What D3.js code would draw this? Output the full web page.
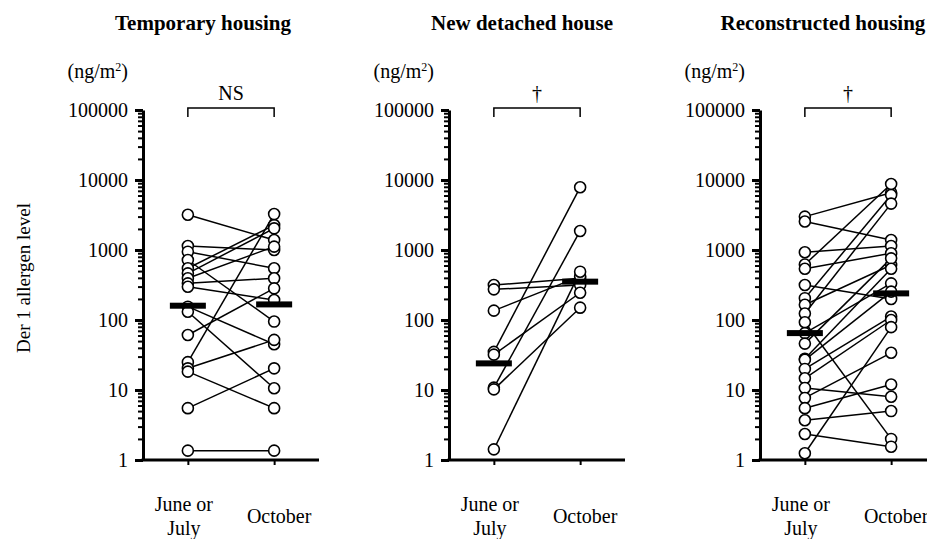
<!DOCTYPE html>
<html>
<head>
<meta charset="utf-8">
<script src="https://cdn.jsdelivr.net/npm/d3@7"></script>
<style>
  body { margin: 0; background: #fff; }
  svg text { font-family: "Liberation Serif", "Times New Roman", Times, "DejaVu Serif", serif; fill: #000; }
</style>
</head>
<body>
<div id="chart"></div>
<script>
// values (ng/m2), paired by index: June/July -> October
var panelTitles = ["Temporary housing", "New detached house", "Reconstructed housing"];
var sigLabels = ["NS", "\u2020", "\u2020"];
var periods = ["June or July", "October"];
var yTickValues = [1, 10, 100, 1000, 10000, 100000];

var tempJune = [3190, 1140, 946, 720, 548, 464, 394, 334, 299, 155, 131, 61, 25, 20.4, 18.3, 5.5, 1.36];
var tempOct  = [1390, 1000, 548, 95, 2270, 2040, 1116, 394, 193, 45, 10.6, 283, 3260, 52, 5.5, 20.4, 1.36];
var tempMedian = [160, 167];

var newJune = [316, 274, 136, 35, 32, 10.8, 10.2, 1.42];
var newOct  = [394, 316, 420, 7870, 245, 1870, 150, 490];
var newMedian = [24, 353];

var recJune = [3000, 2550, 930, 620, 540, 316, 205, 165, 124, 93, 65, 46, 28, 27, 20, 14.7, 10.7, 7.7, 5.5, 3.7, 2.35, 1.25];
var recOct  = [6590, 1390, 1140, 8770, 900, 200, 6100, 610, 4600, 2.0, 334, 760, 540, 254, 112, 100, 8.0, 34, 12, 5.0, 1.55, 79];
var recMedian = [65, 240];

var serif = "'Liberation Serif', 'Times New Roman', Times, 'DejaVu Serif', serif";

//setup
var svgWidth = 927;
var svgHeight = 539;
var svg = d3.select("#chart")
  .append("svg")
  .attr("width", svgWidth)
  .attr("height", svgHeight)
  .attr("font-family", serif);

var panelLeft = [143, 449, 760];
var titleX = [203, 522, 823];
var plotWidth = 176;

var y = d3.scaleLog()
  .domain([1, 100000])
  .range([460, 110]);
var x = d3.scalePoint()
  .domain(periods)
  .range([0, plotWidth])
  .padding(0.52);

var panels = [
  { june: tempJune, oct: tempOct, median: tempMedian },
  { june: newJune, oct: newOct, median: newMedian },
  { june: recJune, oct: recOct, median: recMedian }
];

// y axis title, shared
svg.append("text")
  .attr("transform", "translate(30, 278) rotate(-90)")
  .attr("text-anchor", "middle")
  .style("font-family", serif)
  .style("font-size", "19px")
  .text("Der 1 allergen level");

panels.forEach(function(p, i) {
  // title
  svg.append("text")
    .attr("x", titleX[i])
    .attr("y", 30)
    .attr("text-anchor", "middle")
    .style("font-family", serif)
    .style("font-size", "21px")
    .style("font-weight", "bold")
    .text(panelTitles[i]);

  var g = svg.append("g")
    .attr("transform", `translate(${panelLeft[i]}, 0)`);

  // unit label
  var unit = g.append("text")
    .attr("x", -15)
    .attr("y", 78)
    .attr("text-anchor", "end")
    .style("font-family", serif)
    .style("font-size", "20px");
  unit.append("tspan").text("(ng/m");
  unit.append("tspan").attr("dy", -7).style("font-size", "12px").text("2");
  unit.append("tspan").attr("dy", 7).text(")");

  // minor ticks
  var minor = y.ticks().filter(d => yTickValues.indexOf(d) < 0);
  g.append("g")
    .call(d3.axisLeft(y).tickValues(minor).tickSize(5).tickSizeOuter(0).tickFormat(""))
    .call(a => a.select(".domain").remove())
    .selectAll("line").attr("stroke-width", 2);

  // major axis
  var leftAxis = d3.axisLeft(y)
    .tickValues(yTickValues)
    .tickSize(8)
    .tickSizeOuter(0)
    .tickPadding(7)
    .tickFormat(d3.format("d"));
  var yAxis = g.append("g").call(leftAxis).attr("font-family", serif);
  yAxis.select(".domain").attr("stroke-width", 3);
  yAxis.selectAll("line").attr("stroke-width", 3);
  yAxis.selectAll("text")
    .style("font-family", serif)
    .style("font-size", "20px");

  // x axis
  var bottomAxis = d3.axisBottom(x).tickSize(5).tickSizeOuter(0).tickFormat("");
  var xAxis = g.append("g")
    .attr("transform", `translate(0, ${y(1)})`)
    .call(bottomAxis);
  xAxis.select(".domain").attr("stroke-width", 3).attr("d", `M-1.5,0H${plotWidth}`);
  xAxis.selectAll("line").attr("stroke-width", 2);

  // category labels
  periods.forEach(function(name, k) {
    var words = k === 0 ? ["June or", "July"] : [name];
    var t = g.append("text")
      .attr("text-anchor", "middle")
      .style("font-family", serif)
      .style("font-size", "20px");
    words.forEach(function(w, j) {
      t.append("tspan")
        .attr("x", x(name) + (k === 0 ? -4 : 5))
        .attr("y", words.length > 1 ? 511 + j * 24 : 523)
        .text(w);
    });
  });

  // significance bracket
  var x0 = x(periods[0]), x1 = x(periods[1]);
  g.append("path")
    .attr("d", `M${x0},117V108H${x1}V117`)
    .attr("fill", "none")
    .attr("stroke", "#000")
    .attr("stroke-width", 1.5);
  g.append("text")
    .attr("x", (x0 + x1) / 2)
    .attr("y", 100)
    .attr("text-anchor", "middle")
    .style("font-family", serif)
    .style("font-size", "20px")
    .text(sigLabels[i]);

  // paired lines
  var pairs = p.june.map((v, k) => [v, p.oct[k]]);
  g.selectAll(".pair")
    .data(pairs)
    .enter()
    .append("line")
    .attr("x1", x0)
    .attr("y1", d => y(d[0]))
    .attr("x2", x1)
    .attr("y2", d => y(d[1]))
    .attr("stroke", "#000")
    .attr("stroke-width", 1.5);

  // points
  g.selectAll(".pj")
    .data(p.june)
    .enter()
    .append("circle")
    .attr("cx", x0)
    .attr("cy", d => y(d))
    .attr("r", 5.5)
    .attr("fill", "#fff")
    .attr("stroke", "#000")
    .attr("stroke-width", 1.6);
  g.selectAll(".po")
    .data(p.oct)
    .enter()
    .append("circle")
    .attr("cx", x1)
    .attr("cy", d => y(d))
    .attr("r", 5.5)
    .attr("fill", "#fff")
    .attr("stroke", "#000")
    .attr("stroke-width", 1.6);

  // median bars
  g.selectAll(".med")
    .data(p.median)
    .enter()
    .append("rect")
    .attr("x", (d, k) => x(periods[k]) - 18)
    .attr("y", d => y(d) - 3)
    .attr("width", 36)
    .attr("height", 6)
    .attr("fill", "#000");
});
</script>
</body>
</html>
